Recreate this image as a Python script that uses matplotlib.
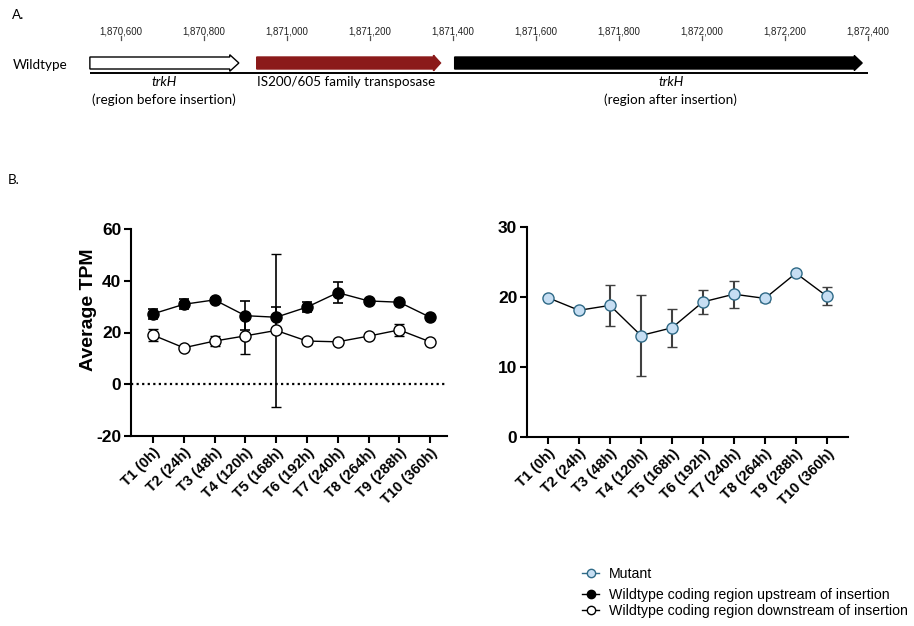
import matplotlib
matplotlib.use("Agg")
import matplotlib.pyplot as plt
from matplotlib.lines import Line2D
import numpy as np

plt.rcParams["axes.unicode_minus"] = False

# ---------------- data ----------------
timepoints = ["T1 (0h)", "T2 (24h)", "T3 (48h)", "T4 (120h)", "T5 (168h)",
              "T6 (192h)", "T7 (240h)", "T8 (264h)", "T9 (288h)", "T10 (360h)"]

upstream_mean = [27.2, 30.9, 32.6, 26.5, 25.9, 29.8, 35.4, 32.2, 31.7, 25.9]
upstream_err = [2.0, 2.0, 0.6, 5.5, 4.0, 2.0, 4.0, 0.5, 0.5, 0.5]

downstream_mean = [19.0, 14.1, 16.7, 18.7, 20.8, 16.7, 16.4, 18.6, 21.0, 16.4]
downstream_err = [2.2, 0.5, 2.0, 7.0, 29.7, 1.0, 0.5, 0.5, 2.3, 0.5]

mutant_mean = [19.9, 18.1, 18.8, 14.5, 15.6, 19.3, 20.4, 19.8, 23.4, 20.1]
mutant_err = [0.0, 0.4, 2.9, 5.8, 2.7, 1.7, 1.9, 0.5, 0.3, 1.3]

genome_ticks = [1870600, 1870800, 1871000, 1871200, 1871400,
                1871600, 1871800, 1872000, 1872200, 1872400]
gene_starts = [1870525, 1870927, 1871404]
gene_ends = [1870884, 1871370, 1872386]
gene_colors = ["white", "#8b1a1a", "black"]

# ---------------- figure ----------------
W, H = 914, 626
fig = plt.figure(figsize=(W / 100, H / 100), dpi=100)
label_font = ["Lato", "DejaVu Sans"]
arial = ["Liberation Sans", "DejaVu Sans"]


def px(x0, y0, x1, y1):
    """pixel box -> figure fraction rect"""
    return [x0 / W, 1 - y1 / H, (x1 - x0) / W, (y1 - y0) / H]


# ---------------- panel A ----------------
axa = fig.add_axes(px(121, 20, 868, 115))
axa.set_xlim(genome_ticks[0], genome_ticks[-1])
axa.set_ylim(115, 20)
axa.axis("off")

axa.plot([gene_starts[0], genome_ticks[-1]], [73, 73], color="black", lw=1.4,
         clip_on=False, solid_capstyle="butt")

head_len = [22, 17, 19]
head_half = [8.3, 7.8, 7.5]
body_half = 6
yc = 63
for s, e, c, hl, hh in zip(gene_starts, gene_ends, gene_colors, head_len, head_half):
    xs = [s, e - hl, e - hl, e, e - hl, e - hl, s]
    ys = [yc - body_half, yc - body_half, yc - hh, yc, yc + hh, yc + body_half, yc + body_half]
    axa.fill(xs, ys, facecolor=c, edgecolor="black" if c != "#8b1a1a" else c,
             lw=1.0, clip_on=False)

for t in genome_ticks:
    axa.plot([t, t], [36, 40], color="#555555", lw=0.9, clip_on=False)
    axa.text(t, 31, f"{t:,}", ha="center", va="center", fontsize=7,
             family=arial, color="#222222")

fs_a = 9.7
axa.text((gene_starts[0] + gene_ends[0]) / 2, 82, "trkH", style="italic",
         ha="center", va="center", fontsize=fs_a, family=label_font)
axa.text((gene_starts[0] + gene_ends[0]) / 2, 100, "(region before insertion)",
         ha="center", va="center", fontsize=fs_a, family=label_font)
axa.text(gene_starts[1], 82, "IS200/605 family transposase",
         ha="left", va="center", fontsize=fs_a, family=label_font)
axa.text(1871925, 82, "trkH", style="italic",
         ha="center", va="center", fontsize=fs_a, family=label_font)
axa.text(1871925, 100, "(region after insertion)",
         ha="center", va="center", fontsize=fs_a, family=label_font)

fig.text(13 / W, 1 - 65 / H, "Wildtype", ha="left", va="center",
         fontsize=9.7, family=label_font)
fig.text(12 / W, 1 - 15 / H, "A.", ha="left", va="center",
         fontsize=9.7, family=label_font)
fig.text(8 / W, 1 - 180 / H, "B.", ha="left", va="center",
         fontsize=9.7, family=label_font)


# ---------------- panel B ----------------
def style_axes(ax):
    for sp in ["top", "right"]:
        ax.spines[sp].set_visible(False)
    for sp in ["left", "bottom"]:
        ax.spines[sp].set_linewidth(1.5)
    ax.tick_params(direction="out", length=5, width=1.5, pad=2)
    ax.set_xticks(range(len(timepoints)))
    ax.set_xticklabels(timepoints, rotation=45, ha="right",
                       rotation_mode="anchor", fontsize=10.5,
                       fontweight="bold", family=arial)
    for lab in ax.get_yticklabels():
        lab.set_fontsize(12.5)
        lab.set_fontweight("bold")
        lab.set_family(arial)


x = np.arange(len(timepoints))

ax1 = fig.add_axes(px(131, 229, 447, 436))
ax1.set_xlim(-0.715, 9.55)
ax1.set_ylim(-20, 60)
ax1.set_yticks([-20, 0, 20, 40, 60])
ax1.axhline(0, color="black", ls=(0, (1, 1.5)), lw=1.6, zorder=1)
ax1.errorbar(x, upstream_mean, yerr=upstream_err, color="black", lw=1.0,
             ecolor="black", elinewidth=1.2, capsize=3.5, capthick=1.2,
             marker="o", ms=8, mfc="black", mec="black", zorder=3)
ax1.errorbar(x, downstream_mean, yerr=downstream_err, color="black", lw=1.0,
             ecolor="black", elinewidth=1.2, capsize=3.5, capthick=1.2,
             marker="o", ms=8, mfc="white", mec="black", mew=1.0, zorder=3)
ax1.set_ylabel("Average TPM", fontsize=14, fontweight="bold", family=arial,
               va="center")
ax1.yaxis.set_label_coords(-0.136, 0.61)
style_axes(ax1)

mut_face = "#c6def3"
mut_edge = "#2f6a87"
ax2 = fig.add_axes(px(527, 227, 848, 437))
ax2.set_xlim(-0.677, 9.68)
ax2.set_ylim(0, 30)
ax2.set_yticks([0, 10, 20, 30])
ax2.errorbar(x, mutant_mean, yerr=mutant_err, color="black", lw=1.0,
             ecolor="#404040", elinewidth=1.5, capsize=3.5, capthick=1.5,
             marker="o", ms=8, mfc=mut_face, mec=mut_edge, mew=1.0, zorder=3)
style_axes(ax2)

# ---------------- legends ----------------
h_mut = Line2D([], [], color=mut_edge, lw=1.0, marker="o", ms=6,
               mfc=mut_face, mec=mut_edge)
h_up = Line2D([], [], color="black", lw=1.0, marker="o", ms=6,
              mfc="black", mec="black")
h_down = Line2D([], [], color="black", lw=1.0, marker="o", ms=6,
                mfc="white", mec="black")

legprops = {"family": arial, "size": 10.2}
leg1 = fig.legend([h_mut], ["Mutant"], loc="center left",
                  bbox_to_anchor=(582 / W, 1 - 574 / H), frameon=False,
                  handlelength=1.2, handletextpad=0.7, borderaxespad=0,
                  borderpad=0, prop=legprops)
leg2 = fig.legend([h_up, h_down],
                  ["Wildtype coding region upstream of insertion",
                   "Wildtype coding region downstream of insertion"],
                  loc="center left", bbox_to_anchor=(582 / W, 1 - 603 / H),
                  frameon=False, handlelength=1.2, handletextpad=0.7,
                  borderaxespad=0, borderpad=0, labelspacing=0.15,
                  prop=legprops)

fig.savefig("out.png", dpi=100)
